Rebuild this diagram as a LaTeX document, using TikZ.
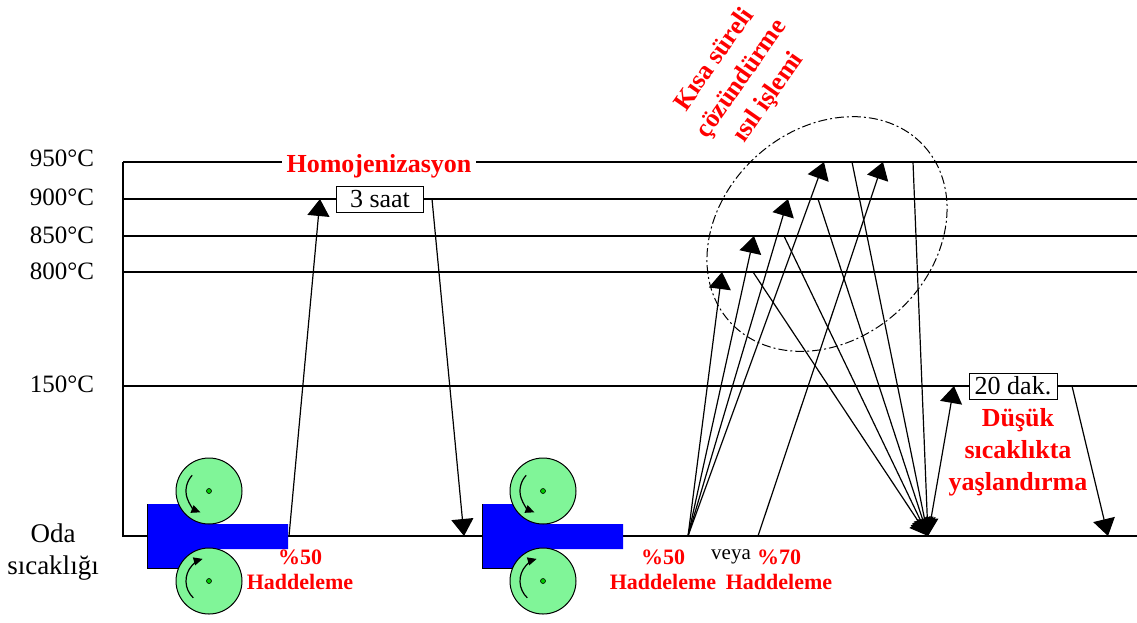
\documentclass[tikz,border=0pt]{standalone}
\usepackage{fontspec}
\setmainfont{Liberation Serif}
\usetikzlibrary{arrows.meta}
\definecolor{rollgreen}{RGB}{128,245,152}

\begin{document}
\begin{tikzpicture}[x=1pt, y=-1pt, >={Triangle[length=17pt, width=22pt]}, line width=1.2pt,
	lbl/.style={font=\fontsize{25}{33}\selectfont},
	red lbl/.style={text=red, font=\bfseries\fontsize{26}{32}\selectfont, align=center},
	small red/.style={text=red, font=\bfseries\fontsize{22}{25}\selectfont, align=center},
	timebox/.style={draw, fill=white, line width=1pt, inner sep=0pt, minimum height=26pt, font=\fontsize{26}{30}\selectfont},
	roller/.style={circle, draw, fill=rollgreen, line width=1pt, minimum size=66pt, inner sep=0pt},
	axle/.style={circle, draw, fill=green!80!black, line width=0.6pt, minimum size=5pt, inner sep=0pt},
	spin/.style={-{Triangle[length=9pt, width=8pt]}, line width=1.2pt}]
	\useasboundingbox (0,0) rectangle (1137,622);

	% temperature axis and levels
	\draw (123,162) -- (123,536) -- (1137,536);
	\foreach \y in {162,199,236,272,386} {\draw (123,\y) -- (1137,\y);}
	\node[lbl, anchor=east] (t950) at (98,158) {950°C};
	\node[lbl, anchor=east] (t900) at (98,197) {900°C};
	\node[lbl, anchor=east] (t850) at (98,235) {850°C};
	\node[lbl, anchor=east] (t800) at (98,271) {800°C};
	\node[lbl, anchor=east] (t150) at (98,384) {150°C};
	\node[lbl, font=\fontsize{27}{32}\selectfont, align=center] (room) at (53,552) {Oda\\sıcaklığı};

	% homogenising
	\coordinate (roll1) at (289,536);
	\coordinate (hom) at (320,199);
	\coordinate (cool1) at (432,199);
	\coordinate (rt1) at (464,536);
	\draw[->] (roll1) -- (hom);
	\draw[->] (cool1) -- (rt1);

	% short solution treatment
	\coordinate (p50) at (688,536);
	\coordinate (p70) at (758,536);
	\coordinate (s800) at (722,272);
	\coordinate (s850) at (754,236);
	\coordinate (s900) at (788,199);
	\coordinate (s950) at (824,162);
	\coordinate (s950b) at (883,162);
	\foreach \t in {s800,s850,s900,s950} {\draw[->] (p50) -- (\t);}
	\draw[->] (p70) -- (s950b);

	% quench and ageing
	\coordinate (q) at (928,536);
	\coordinate (e800) at (753,272);
	\coordinate (e850) at (784,236);
	\coordinate (e900) at (818,199);
	\coordinate (e950) at (852,162);
	\coordinate (e950b) at (913,162);
	\foreach \s in {e800,e850,e900,e950,e950b} {\draw[->] (\s) -- (q);}
	\coordinate (age) at (954,386);
	\coordinate (cool2) at (1072,386);
	\coordinate (rt2) at (1108,536);
	\draw[->] (q) -- (age);
	\draw[->] (cool2) -- (rt2);

	\draw[line width=1pt, dash pattern=on 9pt off 3pt on 2pt off 3pt, rotate around={42:(827,234)}] (827,234) ellipse [x radius=131, y radius=105];

	% plates and rollers
	\foreach \px/\rx/\ex/\nm in {147/209/288/a, 482/543/623/b} {
		\fill[blue] (\px,504) rectangle (\rx,568) (\rx,524) rectangle (\ex,549);
		\draw[line width=0.8pt] (\px,504) -- (\px,568) -- (\rx,568);
		\node[roller] (top\nm) at (\rx,491) {};
		\node[roller] (bot\nm) at (\rx,581) {};
		\node[axle] at (top\nm) {};
		\node[axle] at (bot\nm) {};
		\draw[spin] (top\nm) ++(223:23) arc[start angle=223, end angle=112, radius=23];
		\draw[spin] (bot\nm) ++(133:23) arc[start angle=133, end angle=254, radius=23];
	}

	% labels
	\node[red lbl, fill=white, inner sep=5pt] (homo) at (379,166) {Homojenizasyon};
	\node[timebox, minimum width=87pt] (saat) at (380,199) {3 saat};
	\node[timebox, minimum width=88pt] (dak) at (1013,386) {20 dak.};
	\node[red lbl, rotate=55, font=\bfseries\fontsize{26}{33}\selectfont] (short) at (742,79) {Kısa süreli\\çözündürme\\ısıl işlemi};
	\node[red lbl] (aging) at (1018,452) {Düşük\\sıcaklıkta\\yaşlandırma};
	\node[small red] (rolla) at (300,570) {\%50\\Haddeleme};
	\node[small red] (rollb) at (663,570) {\%50\\Haddeleme};
	\node[font=\fontsize{21}{25}\selectfont] (or) at (731,557) {veya};
	\node[small red] (rollc) at (779,570) {\%70\\Haddeleme};
\end{tikzpicture}
\end{document}
